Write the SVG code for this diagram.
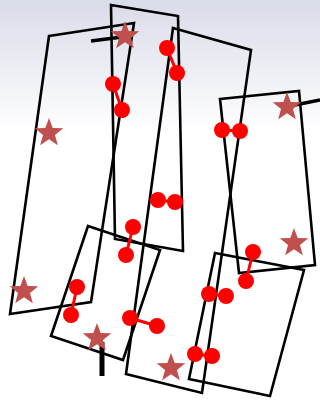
<svg xmlns="http://www.w3.org/2000/svg" xmlns:xlink="http://www.w3.org/1999/xlink" width="320" height="402" viewBox="0 0 320 402">
<defs>
<linearGradient id="bg" x1="0" y1="0" x2="0" y2="1">
<stop offset="0" stop-color="#d9dce9"/>
<stop offset="0.33" stop-color="#ffffff"/>
<stop offset="1" stop-color="#ffffff"/>
</linearGradient>
<path id="star" d="M0,-15 L3.7,-5.1 L14.27,-4.64 L5.99,1.95 L8.82,12.14 L0,6.3 L-8.82,12.14 L-5.99,1.95 L-14.27,-4.64 L-3.7,-5.1 Z"/>
<style>
.q{fill:none;stroke:#000;stroke-width:2.6;stroke-linejoin:miter}
.tab{stroke:#000;stroke-width:3.5;fill:none}
.st{fill:#c0504d}
.dot{fill:#ff0000}
.bar{stroke:#ff0000;stroke-width:3}
</style>
</defs>
<rect width="320" height="402" fill="url(#bg)"/>
<g id="quads">
<g id="quadA"><polygon class="q" points="49,36 134,23 91,302 10,314"/></g>
<g id="quadB"><polygon class="q" points="111,5 178,16 183,251 115,239"/></g>
<g id="quadC"><polygon class="q" points="173,28 251,50 202,393 126,374"/></g>
<g id="quadD"><polygon class="q" points="88,226 160,250 123,360 51,336"/></g>
<g id="quadE"><polygon class="q" points="220,99 299,91 315,265 239,273"/></g>
<g id="quadF"><polygon class="q" points="215,253 304,270 270,396 189,379"/></g>
</g>
<g id="connectors">
<line class="tab" x1="91" y1="41" x2="122" y2="37"/>
<line class="tab" x1="295" y1="105" x2="320" y2="100"/>
<line x1="102" y1="342" x2="102" y2="376" stroke="#000" stroke-width="5"/>
</g>
<g id="stars">
<g id="star1"><use xlink:href="#star" class="st" x="125" y="36"/></g>
<g id="star2"><use xlink:href="#star" class="st" x="49" y="133"/></g>
<g id="star3"><use xlink:href="#star" class="st" x="287" y="107"/></g>
<g id="star4"><use xlink:href="#star" class="st" x="294" y="243"/></g>
<g id="star5"><use xlink:href="#star" class="st" x="24" y="291"/></g>
<g id="star6"><use xlink:href="#star" class="st" x="97" y="338"/></g>
<g id="star7"><use xlink:href="#star" class="st" x="171" y="368"/></g>
</g>
<g id="dumbbells">
<g id="db1"><line class="bar" x1="113" y1="84" x2="122" y2="110"/><circle class="dot" cx="113" cy="84" r="8"/><circle class="dot" cx="122" cy="110" r="8"/></g>
<g id="db2"><line class="bar" x1="167" y1="48" x2="177" y2="73"/><circle class="dot" cx="167" cy="48" r="8"/><circle class="dot" cx="177" cy="73" r="8"/></g>
<g id="db3"><line class="bar" x1="222" y1="130" x2="240" y2="131"/><circle class="dot" cx="222" cy="130" r="8"/><circle class="dot" cx="240" cy="131" r="8"/></g>
<g id="db4"><line class="bar" x1="158" y1="200" x2="175" y2="202"/><circle class="dot" cx="158" cy="200" r="8"/><circle class="dot" cx="175" cy="202" r="8"/></g>
<g id="db5"><line class="bar" x1="133" y1="227" x2="126" y2="255"/><circle class="dot" cx="133" cy="227" r="8"/><circle class="dot" cx="126" cy="255" r="8"/></g>
<g id="db6"><line class="bar" x1="77" y1="287" x2="71" y2="315"/><circle class="dot" cx="77" cy="287" r="8"/><circle class="dot" cx="71" cy="315" r="8"/></g>
<g id="db7"><line class="bar" x1="130" y1="318" x2="157" y2="326"/><circle class="dot" cx="130" cy="318" r="8"/><circle class="dot" cx="157" cy="326" r="8"/></g>
<g id="db8"><line class="bar" x1="253" y1="252" x2="246" y2="281"/><circle class="dot" cx="253" cy="252" r="8"/><circle class="dot" cx="246" cy="281" r="8"/></g>
<g id="db9"><line class="bar" x1="209" y1="294" x2="226" y2="296"/><circle class="dot" cx="209" cy="294" r="8"/><circle class="dot" cx="226" cy="296" r="8"/></g>
<g id="db10"><line class="bar" x1="195" y1="354" x2="212" y2="356"/><circle class="dot" cx="195" cy="354" r="8"/><circle class="dot" cx="212" cy="356" r="8"/></g>
</g>
</svg>
